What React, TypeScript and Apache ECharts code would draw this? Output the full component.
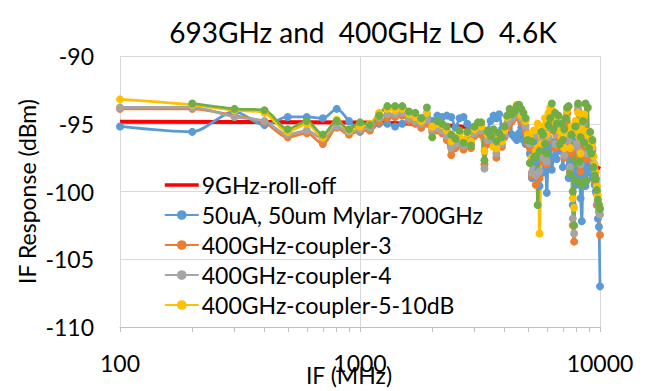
import React, { useEffect, useRef } from "react";
import * as echarts from "echarts";

const freqMHz = [
  100, 200, 300, 400, 500, 600, 700, 800, 900, 1000,
  1100, 1200, 1300, 1400, 1500, 1600, 1700, 1800, 1900, 2000,
  2100, 2200, 2300, 2400, 2500, 2600, 2700, 2800, 2900, 3000,
  3100, 3200, 3300, 3400, 3500, 3600, 3700, 3800, 3900, 4000,
  4100, 4200, 4300, 4400, 4500, 4600, 4700, 4800, 4900, 5000,
  5100, 5200, 5300, 5400, 5500, 5600, 5700, 5800, 5900, 6000,
  6100, 6200, 6300, 6400, 6500, 6600, 6700, 6800, 6900, 7000,
  7100, 7200, 7300, 7400, 7500, 7600, 7700, 7800, 7900, 8000,
  8100, 8200, 8300, 8400, 8500, 8600, 8700, 8800, 8900, 9000,
  9100, 9200, 9300, 9400, 9500, 9600, 9700, 9800, 9900, 10000,
];

const rollOffFreqMHz = [100, 1000, 2000, 3000, 4000, 5000, 6000, 7000, 8000, 9000, 10000];
const rollOff = [-94.85, -94.9, -95.06, -95.31, -95.64, -96.03, -96.45, -96.91, -97.39, -97.86, -98.34];

const mylar700 = [
  -95.2, -95.6, -94.1, -95.1, -94.5, -94.5, -94.6, -93.9, -94.8, -95.6,
  -95.0, -95.0, -95.0, -95.2, -95.0, -94.7, -94.6, -94.6, -94.3, -94.8,
  -94.4, -94.5, -94.4, -94.5, -95.3, -94.6, -94.5, -95.0, -95.3, -95.6,
  -95.4, -95.2, -95.8, -95.5, -94.8, -94.4, -94.6, -94.3, -95.4, -95.6,
  -95.2, -94.2, -95.8, -96.0, -96.2, -95.7, -95.3, -96.2, -96.5, -96.1,
  -97.2, -99.0, -96.3, -97.8, -98.5, -99.6, -97.3, -98.6, -96.8, -100.1,
  -97.0, -96.3, -98.4, -97.5, -96.4, -97.6, -96.6, -97.0, -96.2, -98.2,
  -97.0, -96.5, -97.4, -99.0, -98.0, -97.2, -101.0, -98.5, -96.0, -99.5,
  -97.0, -98.8, -100.5, -102.2, -98.0, -97.3, -99.6, -98.2, -97.5, -98.6,
  -97.8, -98.4, -99.0, -98.2, -99.5, -100.0, -101.0, -102.0, -102.6, -107.0,
];

const coupler3 = [
  -93.9, -93.9, -94.4, -94.9, -96.0, -95.7, -96.5, -95.3, -95.8, -95.5,
  -95.5, -94.9, -94.6, -94.5, -94.4, -94.8, -95.0, -95.3, -95.0, -95.6,
  -95.5, -95.7, -96.2, -97.3, -96.8, -96.5, -96.9, -96.4, -96.8, -95.9,
  -95.6, -95.8, -98.0, -96.5, -96.3, -96.6, -97.5, -96.4, -96.7, -96.0,
  -95.3, -95.0, -94.8, -94.5, -94.3, -94.6, -94.9, -95.0, -95.5, -96.4,
  -96.8, -98.8, -96.0, -99.5, -97.0, -99.0, -96.5, -97.8, -96.0, -98.0,
  -96.2, -95.0, -94.6, -95.5, -96.8, -95.2, -94.5, -96.0, -95.5, -96.8,
  -97.5, -95.0, -94.2, -96.5, -98.5, -97.2, -102.5, -103.7, -95.5, -96.8,
  -94.0, -97.5, -98.5, -96.4, -95.2, -94.8, -96.8, -97.6, -96.2, -97.0,
  -96.4, -97.5, -97.0, -98.2, -98.6, -99.3, -100.2, -101.0, -101.5, -103.2,
];

const coupler4 = [
  -93.8, -93.8, -94.5, -94.8, -95.8, -95.5, -96.1, -95.2, -95.6, -95.4,
  -95.3, -94.6, -94.3, -94.3, -94.2, -94.6, -94.8, -95.0, -94.7, -95.4,
  -95.3, -95.5, -95.9, -96.8, -96.5, -96.2, -96.6, -96.1, -96.5, -95.7,
  -95.4, -95.5, -98.3, -96.2, -96.0, -96.3, -97.2, -96.1, -96.5, -95.8,
  -95.0, -94.7, -94.6, -94.3, -94.0, -94.3, -94.6, -94.8, -95.2, -96.1,
  -96.5, -98.6, -95.9, -98.8, -97.2, -98.5, -96.3, -97.5, -95.7, -97.8,
  -96.0, -95.2, -94.8, -95.3, -96.5, -95.0, -94.4, -95.8, -95.4, -96.6,
  -97.3, -94.6, -93.9, -96.2, -98.2, -96.8, -102.0, -103.1, -95.0, -96.5,
  -93.7, -97.0, -98.0, -96.0, -95.0, -94.5, -96.4, -97.2, -95.9, -96.7,
  -96.2, -97.2, -96.8, -97.9, -98.3, -99.0, -100.0, -100.8, -101.5, -101.7,
];

const coupler5 = [
  -93.2, -93.6, -94.0, -94.2, -95.6, -95.0, -96.0, -94.7, -95.5, -95.2,
  -95.0, -94.2, -93.9, -94.0, -93.9, -94.3, -94.5, -94.8, -94.2, -95.2,
  -95.0, -95.1, -95.5, -96.3, -96.0, -95.8, -96.2, -95.7, -96.3, -95.4,
  -95.1, -95.2, -97.0, -95.8, -95.7, -96.7, -96.8, -95.9, -96.3, -95.5,
  -94.5, -94.3, -94.2, -93.9, -93.6, -93.8, -94.4, -94.5, -94.8, -95.8,
  -96.0, -97.5, -95.5, -97.0, -95.0, -103.1, -96.5, -95.2, -94.6, -95.8,
  -94.2, -93.8, -94.0, -94.3, -95.0, -94.5, -94.8, -95.5, -96.0, -95.8,
  -96.8, -94.5, -94.0, -95.6, -96.8, -95.2, -100.5, -101.2, -94.8, -95.5,
  -94.2, -96.0, -97.2, -95.4, -94.6, -94.3, -95.8, -96.5, -95.6, -96.5,
  -96.0, -96.8, -96.4, -97.4, -98.0, -98.6, -99.6, -100.3, -101.0, -101.2,
];

const coupler6 = [
  null, -93.5, -93.9, -94.0, -95.4, -94.8, -95.8, -94.8, -95.4, -94.9,
  -95.1, -94.4, -93.7, -93.7, -93.7, -94.1, -94.2, -94.6, -93.8, -96.0,
  -94.8, -95.0, -95.2, -95.8, -96.1, -95.5, -96.4, -95.6, -96.6, -95.2,
  -94.9, -94.9, -97.7, -95.6, -95.9, -95.4, -96.3, -95.7, -96.0, -95.2,
  -94.4, -93.9, -94.3, -94.1, -93.7, -93.6, -93.9, -94.2, -94.6, -96.2,
  -97.9, -96.3, -97.5, -97.4, -101.0, -97.0, -95.6, -95.8, -96.5, -97.2,
  -95.1, -94.6, -93.5, -95.4, -94.2, -95.0, -94.4, -96.5, -95.0, -96.2,
  -95.4, -94.6, -93.8, -93.7, -98.7, -95.8, -100.0, -102.5, -95.2, -99.2,
  -93.5, -97.8, -96.0, -99.5, -94.8, -96.4, -93.5, -99.2, -93.8, -96.8,
  -95.6, -97.2, -96.2, -98.2, -98.8, -99.1, -99.9, -100.6, -101.0, -101.3,
];

const xTickValues = [
  100, 200, 300, 400, 500, 600, 700, 800, 900,
  1000, 2000, 3000, 4000, 5000, 6000, 7000, 8000, 9000, 10000,
];

const legendNames = [
  "9GHz-roll-off",
  "50uA, 50um Mylar-700GHz",
  "400GHz-coupler-3",
  "400GHz-coupler-4",
  "400GHz-coupler-5-10dB",
];
const hiddenName = "400GHz-coupler-6";

const FONT = "Lato, 'Open Sans', sans-serif";

function pairs(xs: number[], ys: (number | null)[]) {
  return xs.map((x, i) => [x, ys[i]]);
}

export default function App() {
  const ref = useRef<HTMLDivElement>(null);
  useEffect(() => {
    if (!ref.current) return;
    const chart = echarts.init(ref.current, null, { renderer: "svg" });
    const dotSeries = (name: string, color: string, ys: (number | null)[]) => ({
      name,
      type: "line",
      xAxisIndex: 0,
      data: pairs(freqMHz, ys),
      smooth: 0.3,
      symbol: "circle",
      symbolSize: 8,
      showSymbol: true,
      connectNulls: false,
      itemStyle: { color },
      lineStyle: { color, width: 2.75 },
    });
    chart.setOption({
      animation: false,
      backgroundColor: "#ffffff",
      textStyle: { fontFamily: FONT },
      title: {
        text: "693GHz and  400GHz LO  4.6K",
        left: 358,
        top: 13,
        textAlign: "center",
        textStyle: { fontFamily: FONT, fontSize: 28, fontWeight: "normal", color: "#000" },
      },
      legend: {
        data: [
          { name: legendNames[0], itemStyle: { opacity: 0 }, lineStyle: { width: 3.5 } },
          legendNames[1],
          legendNames[2],
          legendNames[3],
          legendNames[4],
        ],
        orient: "vertical",
        left: 163,
        top: 173,
        padding: 0,
        itemWidth: 34,
        itemHeight: 12,
        itemGap: 6,
        textStyle: { fontFamily: FONT, fontSize: 23, color: "#000", lineHeight: 24, padding: [0, 0, 0, -2] },
      },
      grid: { left: 120, right: 47, top: 56, bottom: 64, containLabel: false, outerBoundsMode: "none" },
      xAxis: [
        {
          type: "log",
          logBase: 10,
          min: 100,
          max: 10000,
          name: "IF (MHz)",
          nameLocation: "middle",
          nameGap: 36,
          nameMoveOverlap: false,
          nameTextStyle: { fontFamily: FONT, fontSize: 23, color: "#000", padding: [0, 22, 0, 0] },
          axisLine: { show: true, lineStyle: { color: "#BFBFBF", width: 1 } },
          axisTick: { show: true, customValues: xTickValues, length: 5, lineStyle: { color: "#BFBFBF" } },
          axisLabel: {
            fontFamily: FONT,
            fontSize: 23,
            color: "#000",
            margin: 24,
            formatter: (v: number) => String(Math.round(v)),
          },
          splitLine: { show: false },
          z: 3,
        },
        {
          type: "log",
          logBase: 10,
          min: 100,
          max: 10000,
          position: "bottom",
          axisLine: { show: false },
          axisTick: { show: false },
          axisLabel: { show: false },
          splitLine: { show: true, lineStyle: { color: "#D9D9D9", width: 1 } },
        },
      ],
      yAxis: {
        type: "value",
        min: -110,
        max: -90,
        interval: 5,
        name: "IF Response (dBm)",
        nameLocation: "middle",
        nameGap: 82,
        nameMoveOverlap: false,
        nameTextStyle: { fontFamily: FONT, fontSize: 23, color: "#000" },
        axisLine: { show: false },
        axisTick: { show: false },
        axisLabel: { fontFamily: FONT, fontSize: 23, color: "#000", margin: 26 },
        splitLine: { show: true, lineStyle: { color: "#D9D9D9", width: 1 } },
      },
      series: [
        {
          name: legendNames[0],
          type: "line",
          xAxisIndex: 0,
          data: pairs(rollOffFreqMHz, rollOff),
          smooth: true,
          symbol: "none",
          itemStyle: { color: "#FF0000" },
          lineStyle: { color: "#FF0000", width: 4 },
        },
        dotSeries(legendNames[1], "#5B9BD5", mylar700),
        dotSeries(legendNames[2], "#ED7D31", coupler3),
        dotSeries(legendNames[3], "#A5A5A5", coupler4),
        dotSeries(legendNames[4], "#FFC000", coupler5),
        dotSeries(hiddenName, "#70AD47", coupler6),
      ],
    });
    return () => chart.dispose();
  }, []);
  return (
    <div
      ref={ref}
      style={{ position: "fixed", left: 0, top: 0, width: 647, height: 391 }}
    />
  );
}
